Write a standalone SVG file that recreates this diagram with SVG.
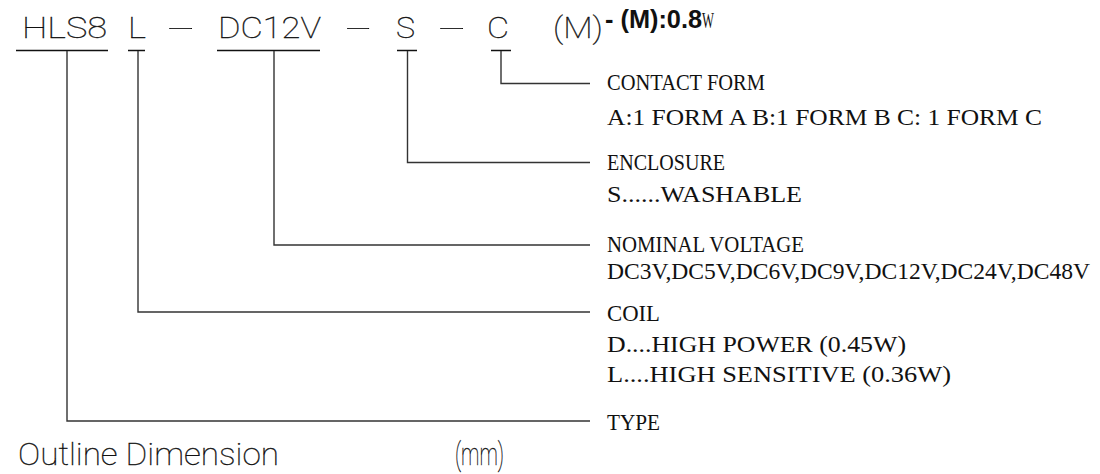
<svg xmlns="http://www.w3.org/2000/svg" width="1100" height="474" viewBox="0 0 1100 474">
  <style>
    .code { font-family: "Roboto", "Lato", "Open Sans", sans-serif; font-weight: 100; font-size: 30px; fill: #111; stroke: #111; stroke-width: 0.35; }
    .lbl { font-family: "Liberation Serif", "Times New Roman", serif; font-size: 24px; fill: #111; }
    .note { font-family: "Liberation Sans", Arial, sans-serif; font-weight: bold; font-size: 25px; fill: #111; }
    .title { font-family: "Roboto", "Lato", "Open Sans", sans-serif; font-weight: 100; font-size: 32px; fill: #111; stroke: #111; stroke-width: 0.35; }
    .ul { stroke: #111; stroke-width: 1.5; fill: none; }
    .conn { stroke: #333; stroke-width: 1.4; fill: none; }
  </style>
  <rect width="1100" height="474" fill="#fff"/>

  <g id="node-hls8">
    <text class="code" x="22" y="38" textLength="85" lengthAdjust="spacingAndGlyphs">HLS8</text>
    <line class="ul" x1="16" y1="50.5" x2="108" y2="50.5"/>
  </g>
  <g id="node-l">
    <text class="code" x="128" y="38" textLength="18" lengthAdjust="spacingAndGlyphs">L</text>
    <line class="ul" x1="128" y1="50.5" x2="145" y2="50.5"/>
  </g>
  <g id="sep1">
    <text class="code" x="167" y="38" textLength="28" lengthAdjust="spacingAndGlyphs">-</text>
  </g>
  <g id="node-dc12v">
    <text class="code" x="218" y="38" textLength="103" lengthAdjust="spacingAndGlyphs">DC12V</text>
    <line class="ul" x1="217" y1="50.5" x2="320" y2="50.5"/>
  </g>
  <g id="sep2">
    <text class="code" x="345" y="38" textLength="27" lengthAdjust="spacingAndGlyphs">-</text>
  </g>
  <g id="node-s">
    <text class="code" x="396" y="38" textLength="19" lengthAdjust="spacingAndGlyphs">S</text>
    <line class="ul" x1="397" y1="50.5" x2="417" y2="50.5"/>
  </g>
  <g id="sep3">
    <text class="code" x="438" y="38" textLength="28" lengthAdjust="spacingAndGlyphs">-</text>
  </g>
  <g id="node-c">
    <text class="code" x="487" y="38" textLength="22" lengthAdjust="spacingAndGlyphs">C</text>
    <line class="ul" x1="491" y1="50.5" x2="511" y2="50.5"/>
  </g>
  <g id="node-m">
    <text class="code" x="553" y="38" font-size="33" textLength="50" lengthAdjust="spacingAndGlyphs">(M)</text>
    <text class="note" x="605" y="28" textLength="97" lengthAdjust="spacingAndGlyphs">- (M):0.8</text>
    <text class="lbl" x="702" y="28" font-size="22" textLength="12" lengthAdjust="spacingAndGlyphs">W</text>
  </g>

  <g id="connectors">
    <polyline class="conn" points="501,51 501,83.5 590,83.5"/>
    <polyline class="conn" points="407.5,51 407.5,162.5 590,162.5"/>
    <polyline class="conn" points="274,51 274,245 590,245"/>
    <polyline class="conn" points="138,51 138,312 590,312"/>
    <polyline class="conn" points="67,51 67,421 590,421"/>
  </g>

  <g id="label-contact">
    <text class="lbl" x="607" y="90" textLength="158" lengthAdjust="spacingAndGlyphs">CONTACT FORM</text>
    <text class="lbl" x="607" y="125" textLength="435" lengthAdjust="spacingAndGlyphs">A:1 FORM A B:1 FORM B C: 1 FORM C</text>
  </g>
  <g id="label-enclosure">
    <text class="lbl" x="607" y="170" textLength="118" lengthAdjust="spacingAndGlyphs">ENCLOSURE</text>
    <text class="lbl" x="607" y="202" textLength="195" lengthAdjust="spacingAndGlyphs">S......WASHABLE</text>
  </g>
  <g id="label-voltage">
    <text class="lbl" x="607" y="252" textLength="197" lengthAdjust="spacingAndGlyphs">NOMINAL VOLTAGE</text>
    <text class="lbl" x="607" y="279" textLength="483" lengthAdjust="spacingAndGlyphs">DC3V,DC5V,DC6V,DC9V,DC12V,DC24V,DC48V</text>
  </g>
  <g id="label-coil">
    <text class="lbl" x="607" y="321" textLength="53" lengthAdjust="spacingAndGlyphs">COIL</text>
    <text class="lbl" x="607" y="352" textLength="299" lengthAdjust="spacingAndGlyphs">D....HIGH POWER (0.45W)</text>
    <text class="lbl" x="607" y="382" textLength="344" lengthAdjust="spacingAndGlyphs">L....HIGH SENSITIVE (0.36W)</text>
  </g>
  <g id="label-type">
    <text class="lbl" x="607" y="430" textLength="53" lengthAdjust="spacingAndGlyphs">TYPE</text>
  </g>

  <g id="title">
    <text class="title" x="18" y="465" textLength="261" lengthAdjust="spacingAndGlyphs">Outline Dimension</text>
    <text class="title" x="455" y="465" font-size="30" textLength="49" lengthAdjust="spacingAndGlyphs">(mm)</text>
  </g>
</svg>
